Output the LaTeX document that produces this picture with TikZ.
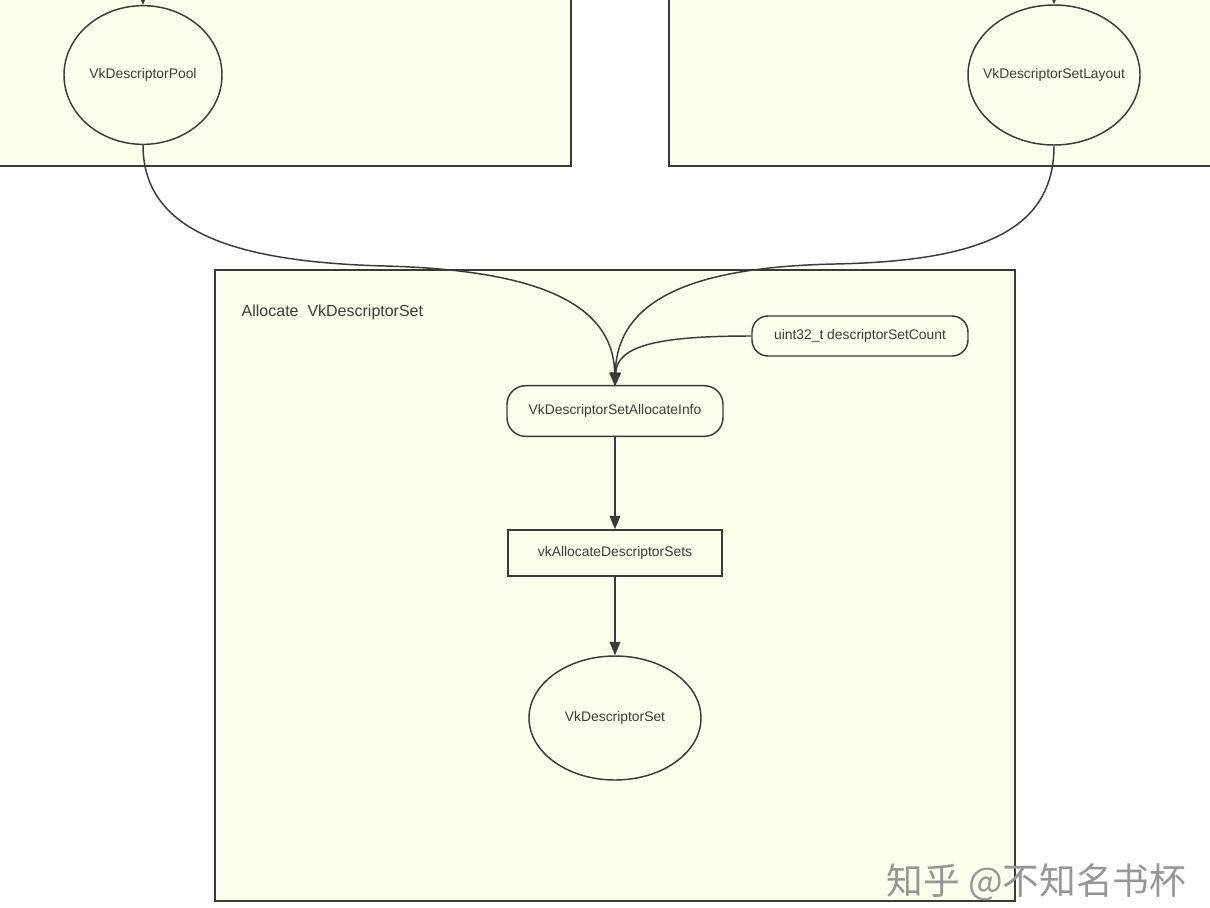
\documentclass[tikz,border=0pt]{standalone}
\usepackage{fontspec}
\setmainfont{Liberation Sans}
\newfontfamily\cjk{Noto Sans CJK SC}
\usetikzlibrary{shapes.geometric,arrows.meta}
\definecolor{panelfill}{RGB}{254,254,237}
\definecolor{ink}{RGB}{58,58,58}
\definecolor{txt}{RGB}{60,60,60}
\definecolor{mark}{RGB}{150,150,150}
\tikzset{
  panel/.style={draw=ink, line width=1.4pt, fill=panelfill},
  itemfont/.style={text=txt, font=\fontsize{10.4pt}{12pt}\selectfont},
  item/.style={draw=ink, line width=1.1pt, fill=panelfill, itemfont, inner sep=0pt},
  oval/.style={item, ellipse},
  pill/.style={item, rectangle, rounded corners=14pt},
  boxnode/.style={item, rectangle},
  link/.style={draw=ink, line width=1.1pt, -{Triangle[length=10pt,width=8pt]}},
}
\begin{document}
\begin{tikzpicture}[x=0.75pt, y=-0.75pt]
  \useasboundingbox (0,0) rectangle (1210,907);
  \clip (0,0) rectangle (1210,907);
  \fill[white] (0,0) rectangle (1210,907);

  % upper panels, partly cut by the page edge
  \path[panel] (-20,-20) rectangle (571,166);
  \path[panel] (669,-20) rectangle (1230,166);
  % main panel
  \path[panel] (215,270) rectangle (1015,901);
  \node[anchor=west, text=txt, font=\fontsize{12pt}{14pt}\selectfont] (title) at (237,312) {Allocate\ \ VkDescriptorSet};

  % nodes
  \node[oval, minimum width=118.5pt, minimum height=104pt] (pool) at (143,75) {VkDescriptorPool};
  \node[oval, minimum width=129pt, minimum height=105pt,
        label={[itemfont]center:VkDescriptorSetLayout}] (layout) at (1054,75) {};
  \node[pill, minimum width=162pt, minimum height=30pt, rounded corners=12pt] (count) at (860,336) {uint32\_t descriptorSetCount};
  \node[pill, minimum width=162pt, minimum height=38pt] (info) at (615,411) {VkDescriptorSetAllocateInfo};
  \node[boxnode, minimum width=160.5pt, minimum height=34.5pt] (alloc) at (615,553) {vkAllocateDescriptorSets};
  \node[oval, minimum width=129pt, minimum height=93pt] (set) at (615,718) {VkDescriptorSet};

  % incoming links from above the page
  \coordinate (poolin) at (143,-30);
  \coordinate (layoutin) at (1054,-30);
  \draw[link] (poolin) -- (pool.north);
  \draw[link] (layoutin) -- (layout.north);

  % merging links into the allocate info
  \coordinate (merge) at (615,386);
  \draw[link] (pool.south) .. controls (143,232) and (235,262) .. (385,266)
                           .. controls (530,270) and (613,300) .. (merge);
  \draw[link] (layout.south) .. controls (1054,232) and (978,261) .. (835,264)
                             .. controls (695,267) and (617,298) .. (merge);
  \draw[link] (count.west) .. controls (660,336) and (617,345) .. (merge);

  % main chain
  \draw[link] (info.south) -- (alloc.north);
  \draw[link] (alloc.south) -- (set.north);

  % watermark
  \node[anchor=east, text=mark, font=\cjk\fontsize{27.5pt}{30pt}\selectfont] (wm) at (1191,882) {知乎 @不知名书杯};
\end{tikzpicture}
\end{document}
